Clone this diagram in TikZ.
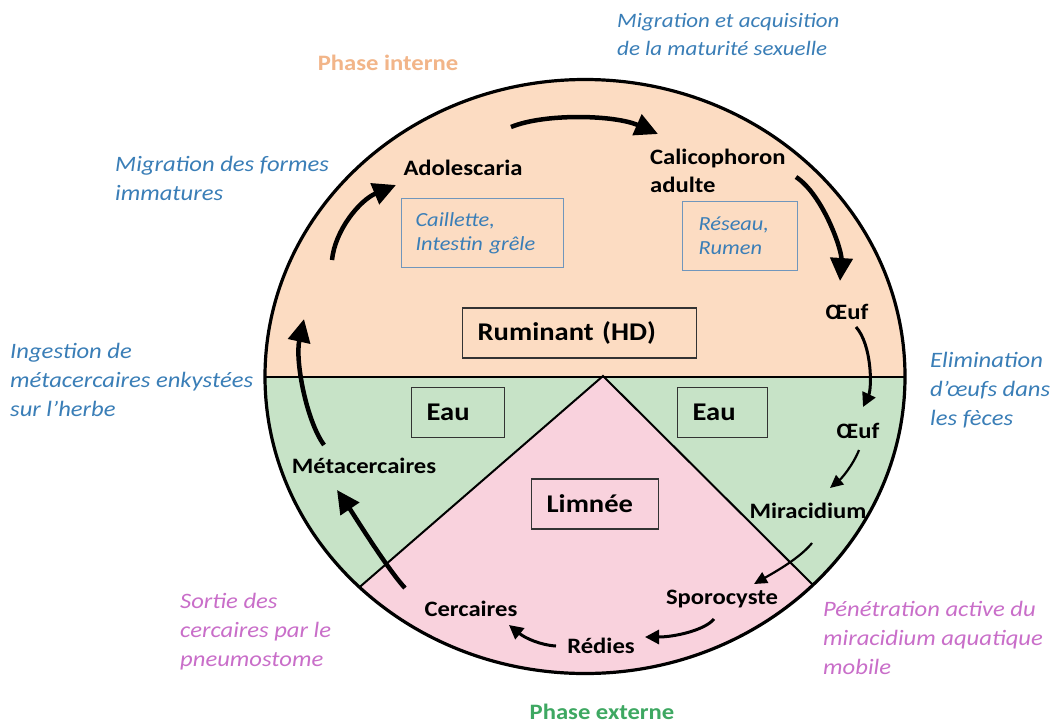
\documentclass[tikz,border=0pt]{standalone}
\usepackage{fontspec}
\setmainfont{Carlito}[FakeStretch=1.12]
\usetikzlibrary{arrows.meta}

\definecolor{peach}{HTML}{FCDCC2}
\definecolor{water}{HTML}{C7E3C7}
\definecolor{snail}{HTML}{F9D2DD}
\definecolor{notes}{HTML}{3A7EB7}
\definecolor{pinknote}{HTML}{C96EC9}
\definecolor{internal}{HTML}{F2B589}
\definecolor{external}{HTML}{3EA862}
\definecolor{organ}{HTML}{7096BC}

\begin{document}
\begin{tikzpicture}[x=1pt,y=-1pt,
  stage/.style={font=\fontsize{22}{28}\selectfont\bfseries, align=left, inner sep=0pt},
  note/.style={font=\fontsize{22}{29}\selectfont\itshape, align=left, inner sep=0pt, anchor=west},
  bluenote/.style={note, text=notes},
  pinknote/.style={note, text=pinknote},
  hostbox/.style={draw=black!80, line width=1.3pt, anchor=west, align=left,
    inner xsep=15pt, inner ysep=0pt, minimum height=50pt,
    font=\fontsize{25.5}{28}\selectfont\bfseries},
  organbox/.style={draw=organ, line width=1.1pt, anchor=north west, align=left,
    inner xsep=15pt, inner ysep=0pt, text=notes,
    font=\fontsize{20}{24}\selectfont\itshape},
  bigarrow/.style={line width=4.5pt, -{Triangle[length=23pt,width=22pt]}},
  midarrow/.style={line width=3pt, -{Triangle[length=14pt,width=14pt]}},
  thinarrow/.style={line width=2.2pt, -{Triangle[length=13pt,width=12pt]}},
  phase/.style={font=\fontsize{22}{24}\selectfont\bfseries, inner sep=0pt}
]
\useasboundingbox (0,0) rectangle (1051,726);
\fill[white] (0,0) rectangle (1051,726);

% the host disc: ruminant above, water and snail below
\begin{scope}
  \clip (585,376.5) ellipse [x radius=320, y radius=297];
  \fill[peach] (0,0) rectangle (1051,376.5);
  \fill[water] (0,376.5) rectangle (1051,726);
  \fill[snail] (603,376) -- (121,794) -- (1023,794) -- cycle;
  \draw[line width=2pt] (0,376.5) -- (1051,376.5);
  \draw[line width=2pt] (121,794) -- (603,376) -- (1023,794);
\end{scope}
\draw[line width=3.2pt] (585,376.5) ellipse [x radius=320, y radius=297];

% hosts and habitats
\node[hostbox, text width=204pt] (rumin) at (462,333) {Ruminant (HD)};
\node[hostbox, text width=63pt] (eauL) at (411,412.5) {Eau};
\node[hostbox, text width=60pt] (eauR) at (677,412.5) {Eau};
\node[hostbox, text width=97pt, fill=snail] (limnee) at (531,504) {Limnée};

% organs
\node[organbox, text width=134pt, minimum height=69pt, inner xsep=14pt] (caill) at (401,198)
  {Caillette,\\Intestin grêle};
\node[organbox, text width=83pt, minimum height=69pt, inner xsep=16pt] (reseau) at (682,201)
  {Réseau,\\Rumen};

% stages of the cycle
\node[stage] (adol) at (463,168) {Adolescaria};
\node[stage, anchor=west] (calico) at (650,171) {Calicophoron\\adulte};
\node[stage] (oeufA) at (847,312) {Œuf};
\node[stage] (oeufB) at (858,431) {Œuf};
\node[stage] (mirac) at (808,511) {Miracidium};
\node[stage] (sporo) at (722,599) {Sporocyste};
\node[stage] (redies) at (601,646) {Rédies};
\node[stage] (cerc) at (471,609) {Cercaires};
\node[stage] (meta) at (364,466) {Métacercaires};

% phases
\node[phase, text=internal] (phint) at (388,63) {Phase interne};
\node[phase, text=external] (phext) at (602,712) {Phase externe};

% comments on each step
\node[bluenote, font=\fontsize{20.5}{28}\selectfont\itshape] (n1) at (617,34)
  {Migration et acquisition\\de la maturité sexuelle};
\node[bluenote] (n2) at (115,178) {Migration des formes\\immatures};
\node[bluenote] (n3) at (10,380) {Ingestion de\\métacercaires enkystées\\sur l’herbe};
\node[bluenote] (n4) at (930,390) {Elimination\\d’œufs dans\\les fèces};
\node[pinknote] (n5) at (180,632) {Sortie des\\cercaires par le\\pneumostome};
\node[pinknote] (n6) at (823,638) {Pénétration active du\\miracidium aquatique\\mobile};

% arrow ends
\coordinate (a1s) at (511,127);  \coordinate (a1e) at (658,134);
\coordinate (a2s) at (796,177);  \coordinate (a2e) at (840,281);
\coordinate (a3s) at (856,327);  \coordinate (a3e) at (863,407);
\coordinate (a4s) at (859,450);  \coordinate (a4e) at (830,488);
\coordinate (a5s) at (812,543);  \coordinate (a5e) at (754,584);
\coordinate (a6s) at (714,619);  \coordinate (a6e) at (645,637);
\coordinate (a7s) at (556,646);  \coordinate (a7e) at (509,625);
\coordinate (a8s) at (405,588);  \coordinate (a8e) at (337,490);
\coordinate (a9s) at (324,445);  \coordinate (a9e) at (304,319);
\coordinate (a10s) at (332,260); \coordinate (a10e) at (396,185);

% the cycle
\draw[bigarrow] (a1s) .. controls (545,113) and (615,115) .. (a1e);
\draw[bigarrow] (a2s) .. controls (823,195) and (842,250) .. (a2e);
\draw[midarrow] (a3s) .. controls (872,345) and (872,388) .. (a3e);
\draw[thinarrow] (a4s) .. controls (853,465) and (842,478) .. (a4e);
\draw[thinarrow] (a5s) .. controls (800,558) and (775,572) .. (a5e);
\draw[midarrow] (a6s) .. controls (705,630) and (675,637) .. (a6e);
\draw[midarrow] (a7s) .. controls (540,645) and (525,638) .. (a7e);
\draw[bigarrow] (a8s) .. controls (388,570) and (352,512) .. (a8e);
\draw[bigarrow] (a9s) .. controls (306,420) and (295,360) .. (a9e);
\draw[bigarrow] (a10s) .. controls (335,230) and (360,200) .. (a10e);
\end{tikzpicture}
\end{document}
